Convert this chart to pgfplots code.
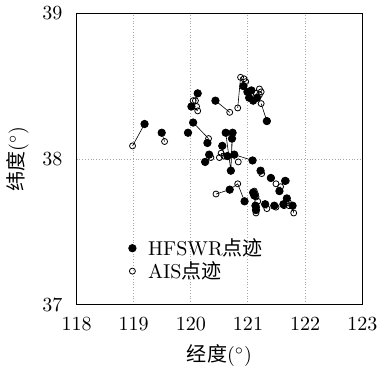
\documentclass[border=0pt]{standalone}
\usepackage{fontspec}
\newfontfamily\cjk{Noto Sans CJK SC}
\usepackage{pgfplots}
\pgfplotsset{compat=1.18}
\begin{document}
\begin{tikzpicture}
\begin{axis}[
  width=142.5pt, height=145.5pt, scale only axis,
  xmin=118, xmax=123, ymin=37, ymax=39,
  xtick={118,119,120,121,122,123}, ytick={37,38,39},
  grid=major, grid style={densely dotted, gray!70, line width=0.5pt},
  major tick length=0pt,
  xticklabel style={yshift=-3pt},
  yticklabel style={xshift=-3.5pt},
  axis line style={line width=0.6pt},
  xlabel={{\cjk 经度}$(^\circ)$},
  ylabel={{\cjk 纬度}$(^\circ)$},
  legend style={at={(0.16,0.155)}, anchor=west, draw=none, fill=none, font=\normalsize, row sep=-2.5pt},
  legend cell align=left,
]
% connecting lines HFSWR <-> AIS
\addplot[black, line width=0.3pt, unbounded coords=jump, forget plot] coordinates {
(118.98,38.09) (119.19,38.24) (nan,nan)
(119.49,38.18) (119.54,38.12) (nan,nan)
(120.04,38.25) (120.31,38.14) (nan,nan)
(120.43,38.40) (120.68,38.32) (nan,nan)
(120.82,38.35) (120.87,38.56) (nan,nan)
(121.33,38.26) (121.23,38.38) (nan,nan)
(120.12,38.45) (120.08,38.40) (nan,nan)
(120.01,38.36) (120.12,38.33) (nan,nan)
(120.61,38.18) (120.70,37.92) (nan,nan)
(120.73,38.18) (120.70,37.92) (nan,nan)
(120.72,38.14) (120.70,37.92) (nan,nan)
(120.55,38.09) (120.58,38.02) (nan,nan)
(120.32,38.03) (120.35,38.01) (nan,nan)
(120.76,38.03) (121.08,37.99) (nan,nan)
(120.64,38.02) (120.53,38.04) (nan,nan)
(121.22,37.92) (121.24,37.90) (nan,nan)
(121.55,37.78) (121.57,37.81) (nan,nan)
(120.44,37.76) (120.68,37.79) (120.82,37.83) (120.94,37.71) (nan,nan)
(121.30,37.69) (121.33,37.66) (nan,nan)
(121.78,37.68) (121.80,37.63) (nan,nan)
(121.68,37.73) (121.72,37.68) (nan,nan)
};
% HFSWR
\addplot[only marks, mark=*, mark size=1.85pt, black, mark options={fill=black}] coordinates {
(119.19,38.24) (119.49,38.18) (119.95,38.18) (120.04,38.25) (120.12,38.45)
(120.01,38.36) (120.43,38.40) (120.92,38.50) (120.99,38.46) (121.02,38.42)
(121.09,38.40) (121.16,38.42) (121.06,38.47) (121.33,38.26) (120.61,38.18)
(120.73,38.18) (120.72,38.14) (120.70,37.92) (120.55,38.09) (120.29,38.11)
(120.32,38.03) (120.25,37.98) (120.76,38.03) (120.64,38.02) (121.08,37.99)
(121.22,37.92) (121.40,37.87) (121.55,37.78) (121.65,37.85) (120.68,37.79)
(120.94,37.71) (121.09,37.77) (121.11,37.75) (121.13,37.68) (121.14,37.65)
(121.30,37.69) (121.46,37.68) (121.62,37.69) (121.68,37.73) (121.78,37.68)
};
\addlegendentry{\hspace{4pt}HFSWR{\cjk 点迹}}
% AIS
\addplot[only marks, mark=o, mark size=1.5pt, black, mark options={fill=white, line width=0.4pt}] coordinates {
(118.98,38.09) (119.54,38.12) (120.31,38.14) (120.08,38.40) (120.04,38.40)
(120.12,38.33) (120.10,38.36) (120.68,38.32) (120.82,38.35) (120.87,38.56)
(120.93,38.55) (120.96,38.53) (121.20,38.48) (121.23,38.46) (121.14,38.45)
(121.20,38.44) (121.23,38.38) (120.35,38.01) (120.53,38.04) (120.58,38.02)
(120.50,38.01) (120.83,37.98) (121.24,37.90) (121.41,37.87) (121.49,37.83)
(121.57,37.81) (121.67,37.85) (120.82,37.83) (120.44,37.76) (121.13,37.76)
(121.14,37.74) (121.11,37.78) (121.15,37.67) (121.14,37.63) (121.17,37.71)
(121.33,37.66) (121.49,37.67) (121.71,37.70) (121.72,37.68) (121.80,37.63)
(121.63,37.68)
};
\addlegendentry{\hspace{4pt}AIS{\cjk 点迹}}
\end{axis}
\end{tikzpicture}
\end{document}
